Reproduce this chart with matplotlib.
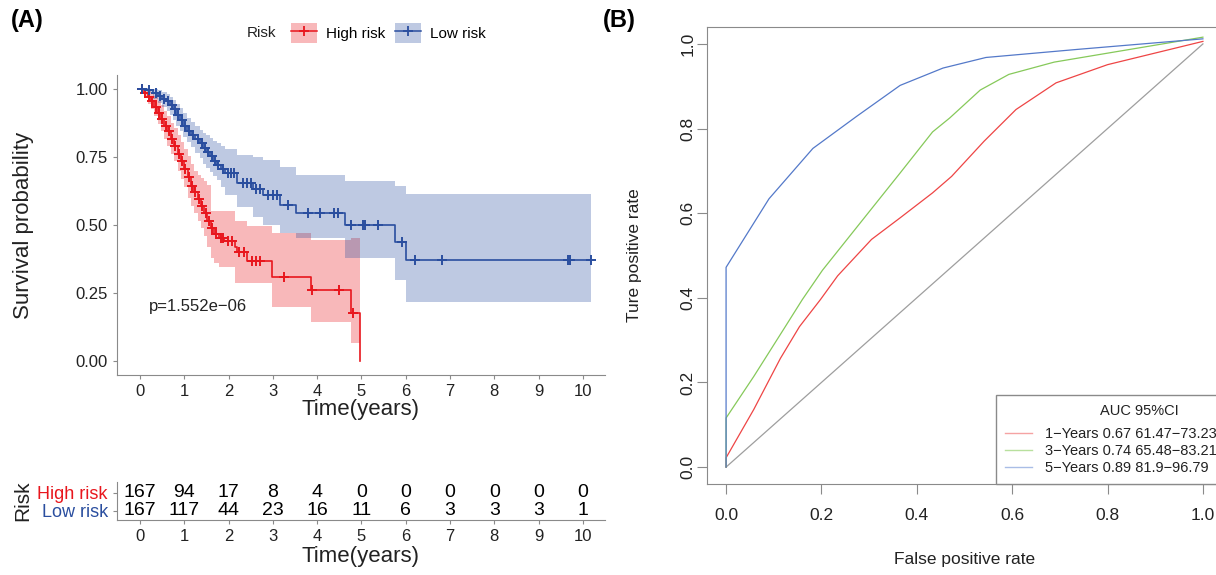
import matplotlib.pyplot as plt
import numpy as np
from matplotlib.lines import Line2D
from matplotlib.patches import Patch
from matplotlib.legend_handler import HandlerTuple

plt.rcParams["font.family"] = ["Liberation Sans", "DejaVu Sans"]

# ---- Kaplan-Meier data ----
high_t = [0, .10, .18, .25, .32, .40, .47, .55, .62, .70, .77, .85, .92, 1.00, 1.08, 1.15,
          1.22, 1.30, 1.38, 1.45, 1.52, 1.60, 1.68, 1.78, 1.90, 2.14, 2.18, 2.42, 2.99, 3.85,
          4.77, 4.96]
high_s = [1, .985, .97, .955, .935, .91, .89, .865, .845, .815, .79, .76, .735, .705, .675,
          .645, .62, .595, .57, .545, .515, .49, .468, .452, .44, .42, .40, .366, .308, .261,
          .178, 0]
high_hi = [1, 1, .995, .99, .975, .955, .94, .92, .90, .875, .855, .83, .805, .78, .755, .725,
           .70, .685, .672, .66, .648, .55, .55, .55, .55, .513, .513, .498, .47, .445, .452, .452]
high_lo = [1, .97, .945, .925, .90, .87, .845, .815, .79, .76, .735, .70, .67, .64, .60, .57,
           .545, .515, .49, .46, .42, .38, .36, .347, .347, .286, .286, .286, .2, .145, .065, .065]
high_cens = [0.05, 0.12, 0.2, 0.27, 0.35, 0.42, 0.5, 0.58, 0.65, 0.72, 0.8, 0.88, 0.95, 1.02,
             1.1, 1.18, 1.25, 1.33, 1.4, 1.48, 1.56, 1.63, 1.72, 1.82, 1.88, 1.99, 2.07, 2.24,
             2.35, 2.52, 2.63, 2.71, 3.26, 3.89, 4.5, 4.81]

low_t = [0, .15, .30, .40, .50, .60, .68, .75, .82, .90, .97, 1.05, 1.15, 1.25, 1.35, 1.43,
         1.50, 1.58, 1.65, 1.73, 1.82, 1.92, 2.18, 2.56, 2.78, 3.16, 3.53, 4.62, 5.75, 6.00, 10.19]
low_s = [1, .995, .985, .975, .965, .955, .94, .925, .905, .885, .865, .845, .83, .815, .80,
         .783, .768, .752, .737, .721, .705, .69, .654, .632, .611, .574, .544, .50, .439, .372, .372]
low_hi = [1, 1, 1, .995, .99, .98, .97, .96, .945, .93, .91, .895, .88, .865, .85, .84, .83, .82,
          .81, .80, .79, .78, .758, .75, .74, .715, .685, .66, .642, .615, .615]
low_lo = [1, .985, .965, .95, .935, .92, .905, .885, .865, .845, .825, .805, .785, .765, .745,
          .725, .71, .695, .68, .665, .64, .61, .568, .531, .50, .47, .452, .378, .298, .216, .216]
low_cens = [0.05, 0.2, 0.35, 0.45, 0.55, 0.64, 0.72, 0.79, 0.86, 0.94, 1.01, 1.1, 1.2, 1.3,
            1.39, 1.47, 1.54, 1.62, 1.69, 1.77, 1.87, 1.99, 2.05, 2.12, 2.33, 2.42, 2.5, 2.63,
            2.7, 2.9, 3.0, 3.1, 3.35, 3.8, 4.06, 4.38, 4.47, 4.77, 5.03, 5.08, 5.38, 5.92, 6.2,
            6.83, 9.66, 9.72, 10.19]

risk_times = list(range(11))
risk_high = [167, 94, 17, 8, 4, 0, 0, 0, 0, 0, 0]
risk_low = [167, 117, 44, 23, 16, 11, 6, 3, 3, 3, 1]
p_text = "p=1.552e\u221206"

# ---- ROC data ----
roc_fpr_1 = [0, 0, 0.058, 0.114, 0.154, 0.198, 0.234, 0.305, 0.365, 0.433, 0.473, 0.541,
             0.608, 0.692, 0.800, 1.0]
roc_tpr_1 = [0, 0.022, 0.136, 0.257, 0.332, 0.396, 0.452, 0.538, 0.589, 0.648, 0.687, 0.770,
             0.845, 0.908, 0.951, 1.006]
roc_fpr_3 = [0, 0, 0.058, 0.122, 0.160, 0.202, 0.270, 0.365, 0.433, 0.469, 0.533, 0.593, 0.688, 1.0]
roc_tpr_3 = [0, 0.116, 0.214, 0.328, 0.396, 0.465, 0.561, 0.695, 0.792, 0.825, 0.891, 0.928,
             0.957, 1.016]
roc_fpr_5 = [0, 0, 0.090, 0.182, 0.274, 0.365, 0.455, 0.545, 0.736, 1.0]
roc_tpr_5 = [0, 0.472, 0.634, 0.753, 0.829, 0.902, 0.943, 0.968, 0.987, 1.012]
roc_labels = ["1\u2212Years 0.67 61.47\u221273.23",
              "3\u2212Years 0.74 65.48\u221283.21",
              "5\u2212Years 0.89 81.9\u221296.79"]

RED = "#E8161D"
BLUE = "#2A4E9F"
AXC = "#8a8a8a"
TXT = "#222222"

W, H = 1216, 575
def box(l, t, r, b):
    return [l / W, 1 - b / H, (r - l) / W, (b - t) / H]

fig = plt.figure(figsize=(W / 100, H / 100), dpi=100)
ax = fig.add_axes(box(117, 75, 605, 375))
ax_rt = fig.add_axes(box(117, 482, 605, 520))
ax_roc = fig.add_axes(box(707, 27, 1222, 484))

# ---- KM curves ----
curves = [(high_t, high_s, high_lo, high_hi, high_cens, RED),
          (low_t, low_s, low_lo, low_hi, low_cens, BLUE)]
for t, s, lo, hi, cens, col in curves:
    t = np.array(t); s = np.array(s)
    ax.fill_between(t, lo, hi, step="post", color=col, alpha=0.3, lw=0)
    ax.step(t, s, where="post", color=col, lw=1.2)
    idx = np.searchsorted(t, cens, side="right") - 1
    ax.plot(cens, s[idx], "+", color=col, ms=7.5, mew=1.4)

ax.text(0.2, 0.2, p_text, fontsize=12, color=TXT, ha="left", va="center")
ax.set_xlim(-0.52, 10.5)
ax.set_ylim(-0.0515, 1.0515)
ax.set_xticks(range(11))
ax.set_yticks([0, 0.25, 0.5, 0.75, 1.0])
ax.set_yticklabels(["0.00", "0.25", "0.50", "0.75", "1.00"])
for a in (ax, ax_rt):
    a.spines[["top", "right"]].set_visible(False)
    a.spines[["left", "bottom"]].set_color(AXC)
    a.tick_params(colors=AXC, labelcolor=TXT, labelsize=12, length=3, pad=3.6)
ax.set_xlabel("Time(years)", fontsize=16, color=TXT)
ax.xaxis.set_label_coords(0.5, -0.079)
ax.set_ylabel("Survival probability", fontsize=16, color=TXT)
ax.yaxis.set_label_coords(-0.170, 0.5)

# ---- risk table ----
for t, nh, nl in zip(risk_times, risk_high, risk_low):
    ax_rt.text(t, 2, str(nh), ha="center", va="center", fontsize=14, color="black")
    ax_rt.text(t, 1, str(nl), ha="center", va="center", fontsize=14, color="black")
ax_rt.set_xlim(ax.get_xlim())
ax_rt.set_ylim(0.48, 2.6)
ax_rt.set_xticks(risk_times)
ax_rt.set_yticks([1, 2])
ax_rt.set_yticklabels(["Low risk", "High risk"])
ax_rt.tick_params(axis="y", labelsize=13)
for lab, col in zip(ax_rt.get_yticklabels(), [BLUE, RED]):
    lab.set_color(col)
ax_rt.set_xlabel("Time(years)", fontsize=16, color=TXT)
ax_rt.xaxis.set_label_coords(0.5, -0.676)
ax_rt.set_ylabel("Risk", fontsize=15, color=TXT)
ax_rt.yaxis.set_label_coords(-0.173, 0.5)

# ---- top legend ----
fig.text(246.7 / W, 1 - 33 / H, "Risk", fontsize=11, color=TXT, ha="left", va="center")
handles = []
for col in (RED, BLUE):
    handles.append((Patch(facecolor=col, alpha=0.3, lw=0),
                    Line2D([], [], color=col, lw=1.1, marker="+", ms=7, mew=1.3)))
fig.legend(handles, ["High risk", "Low risk"], handler_map={tuple: HandlerTuple(ndivide=1)},
           loc="center left", bbox_to_anchor=(283 / W, 1 - 33 / H), ncol=2, frameon=False,
           fontsize=11, borderpad=0, handlelength=1.7, handleheight=1.63,
           handletextpad=0.59, columnspacing=0.65)

# ---- ROC ----
ax_roc.plot([0, 1], [0, 1], color="#9e9e9e", lw=0.9)
roc_cols = ["#EE4545", "#86C95A", "#5479C9"]
roc_light = ["#F5A3A3", "#B8E09E", "#A9BDE6"]
for fpr, tpr, col in zip([roc_fpr_1, roc_fpr_3, roc_fpr_5], [roc_tpr_1, roc_tpr_3, roc_tpr_5], roc_cols):
    ax_roc.plot(fpr, tpr, color=col, lw=0.9)
ax_roc.set_xlim(-0.04, 1.04)
ax_roc.set_ylim(-0.04, 1.04)
ticks = [0, 0.2, 0.4, 0.6, 0.8, 1.0]
ax_roc.set_xticks(ticks)
ax_roc.set_yticks(ticks)
ax_roc.set_xticklabels(["0.0", "0.2", "0.4", "0.6", "0.8", "1.0"])
ax_roc.set_yticklabels(["0.0", "0.2", "0.4", "0.6", "0.8", "1.0"], rotation=90, va="center")
for sp in ax_roc.spines.values():
    sp.set_color(AXC)
ax_roc.tick_params(colors=AXC, labelcolor=TXT, labelsize=12.5, length=7)
ax_roc.tick_params(axis="x", pad=10.4)
ax_roc.tick_params(axis="y", pad=1.5)
ax_roc.set_xlabel("False positive rate", fontsize=12.5, color=TXT)
ax_roc.xaxis.set_label_coords(0.5, -0.148)
ax_roc.set_ylabel("Ture positive rate", fontsize=12.5, color=TXT)
ax_roc.yaxis.set_label_coords(-0.126, 0.5)

leg_handles = [Line2D([], [], color=c, lw=1.0) for c in roc_light]
leg = ax_roc.legend(leg_handles, roc_labels, title="AUC 95%CI", loc="lower left",
                    bbox_to_anchor=(0.567, -0.04, 0.6, 0.205), bbox_transform=ax_roc.transData,
                    mode="expand", borderaxespad=0, fontsize=10.5, title_fontsize=10.5,
                    fancybox=False, edgecolor=AXC, framealpha=1, handlelength=1.85,
                    handletextpad=0.9, labelspacing=0.2, borderpad=0.6)
leg._legend_box.sep = 7  # wider gap under the title, as in the R legend
leg.get_frame().set_linewidth(1.0)
for tx in leg.get_texts():
    tx.set_color(TXT)
leg.get_title().set_color(TXT)

fig.text(11 / W, 1 - 20 / H, "(A)", fontsize=17, fontweight="bold", ha="left", va="center")
fig.text(603 / W, 1 - 20 / H, "(B)", fontsize=17, fontweight="bold", ha="left", va="center")

fig.savefig("out.png", dpi=100)
